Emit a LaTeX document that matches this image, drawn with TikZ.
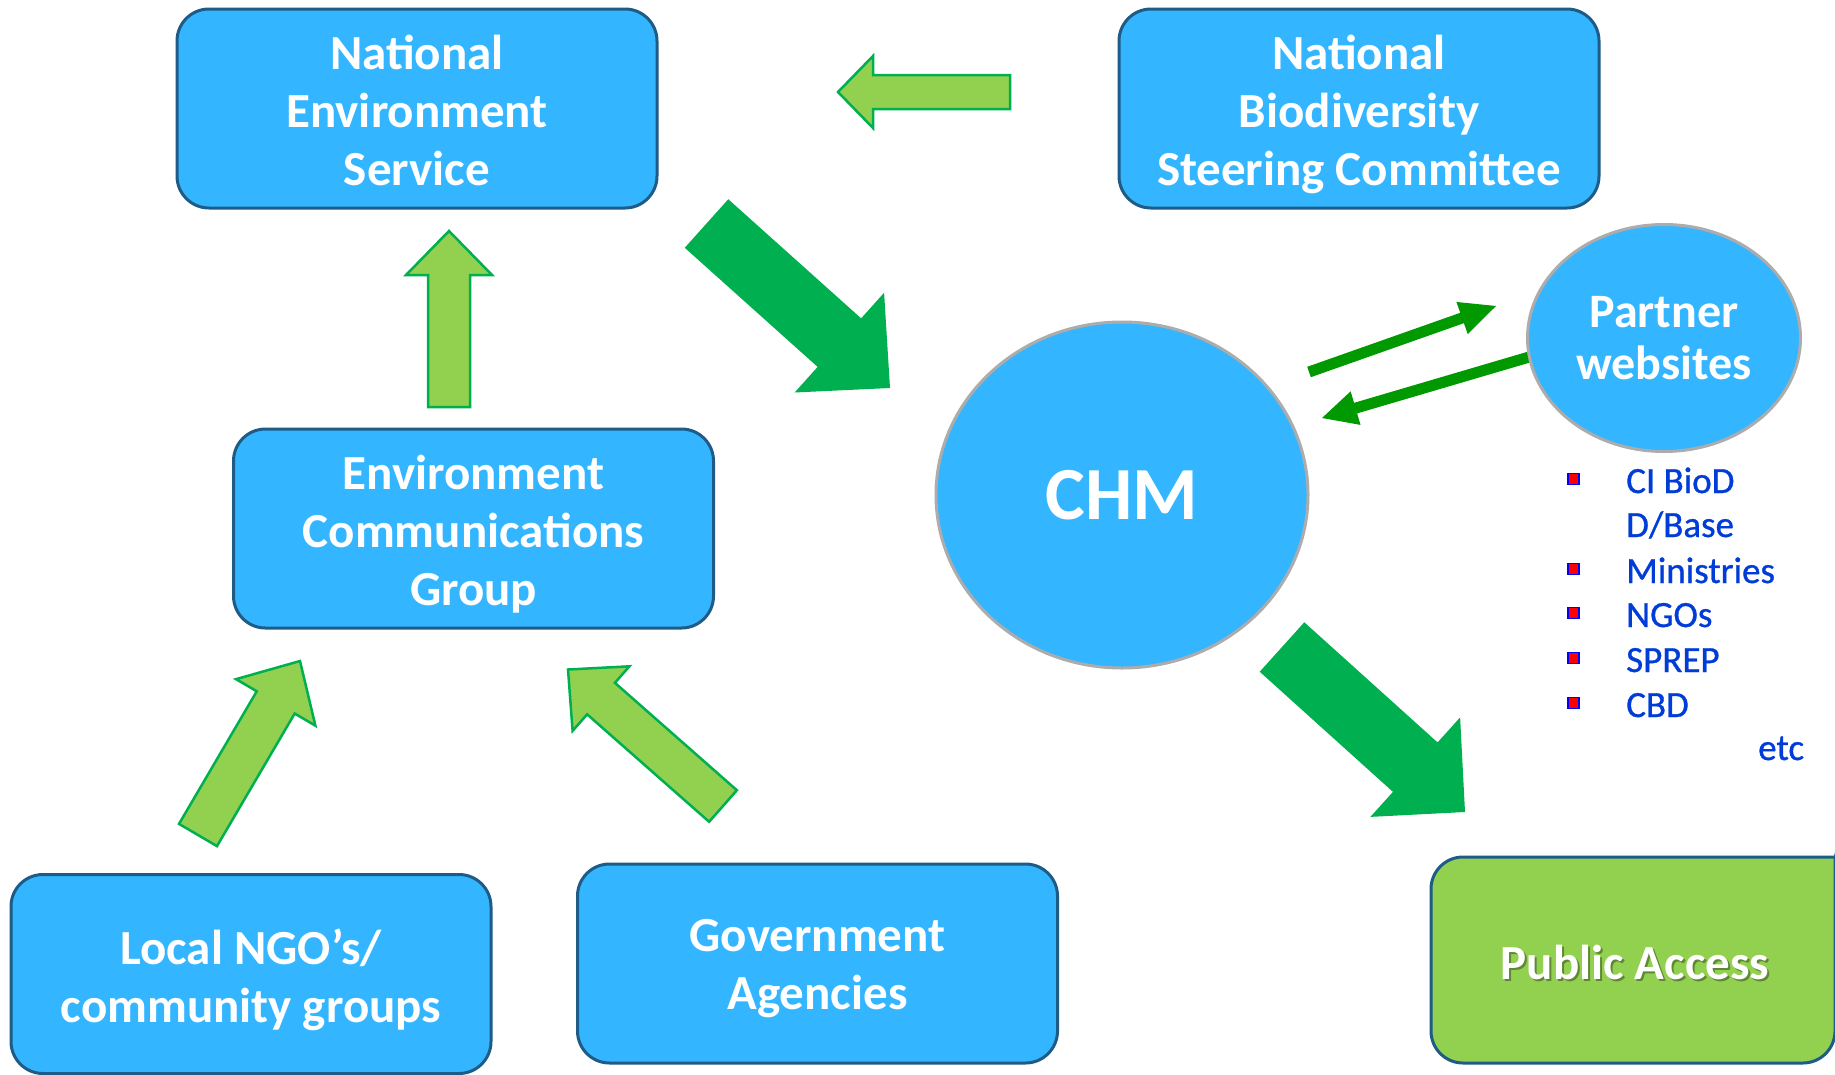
\documentclass[tikz,border=0pt]{standalone}
\usepackage{fontspec}
\setmainfont{Carlito}
\newfontfamily\listfont{Carlito}[FakeBold=0.8]
\usetikzlibrary{calc,shapes.geometric}
\definecolor{boxblue}{RGB}{51,182,255}
\definecolor{boxedge}{RGB}{30,92,135}
\definecolor{lgreen}{RGB}{146,208,80}
\definecolor{ledge}{RGB}{0,176,80}
\definecolor{dgreen}{RGB}{0,176,80}
\definecolor{tgreen}{RGB}{0,153,0}
\definecolor{ringgray}{RGB}{172,172,172}
\definecolor{listblue}{RGB}{0,60,215}
\newcommand\blockarrow[6][]{%
  \coordinate (ba-h) at ($(#3)!#6!(#2)$);
  \path[#1] ($(#2)!#4!-90:(#3)$) -- ($(ba-h)!#4!-90:(#3)$) -- ($(ba-h)!#5!-90:(#3)$) -- (#3)
    -- ($(ba-h)!#5!90:(#3)$) -- ($(ba-h)!#4!90:(#3)$) -- ($(#2)!#4!90:(#3)$) -- cycle;}
\newcommand\lastdepth{\vphantom{g}}
\tikzset{
  box/.style={draw=boxedge, line width=3pt, fill=boxblue, rounded corners=32pt,
    minimum width=480pt, minimum height=199pt, inner sep=0pt},
  boxtext/.style={text=white, align=center, font=\fontsize{49}{58}\selectfont\bfseries, inner sep=0pt},
  blob/.style={ellipse, draw=ringgray, line width=3pt, fill=boxblue, text=white,
    align=center, inner sep=0pt},
  lgarrow/.style={fill=lgreen, draw=ledge, line width=2.5pt, line join=miter},
  dgarrow/.style={fill=dgreen},
  tgarrow/.style={fill=tgreen},
  listtext/.style={anchor=base west, text=listblue, font=\fontsize{37}{44}\selectfont\listfont, inner sep=0pt},
  bulletsq/.style={draw=blue, fill=red, line width=1.5pt, minimum size=11pt, inner sep=0pt},
}
\begin{document}
\begin{tikzpicture}[x=1pt,y=-1pt]
\useasboundingbox (0,0) rectangle (1835,1074);
\clip (0,0) rectangle (1835,1074);
\fill[white] (0,0) rectangle (1835,1074);

% boxes
\node[box] (nes) at (417,108.5) {};
\node[boxtext] (nes-t) at ($(nes.center)+(0,5.5)$) {National\\Environment\\Service\lastdepth};
\node[box] (nbsc) at (1359,108.5) {};
\node[boxtext] (nbsc-t) at ($(nbsc.center)+(0,5.5)$) {National\\Biodiversity\\Steering Committee\lastdepth};
\node[box] (ecg) at (473.5,528.5) {};
\node[boxtext] (ecg-t) at ($(ecg.center)+(0,5.5)$) {Environment\\Communications\\Group\lastdepth};
\node[box] (ngo) at (251,974) {};
\node[boxtext] (ngo-t) at ($(ngo.center)+(0,5.5)$) {Local NGO’s/\\community groups\lastdepth};
\node[box] (gov) at (817.5,963.5) {};
\node[boxtext] (gov-t) at ($(gov.center)+(0,5.5)$) {Government\\Agencies\lastdepth};

% public access box
\draw[boxedge, line width=3pt, fill=lgreen, rounded corners=32pt]
  (1860,857) -- (1431,857) -- (1431,1063) -- (1835,1063) -- (1835,830) -- (1860,830);
\node[text=black, opacity=0.35, font=\fontsize{49}{58}\selectfont\bfseries] (pashadow) at (1637,964) {Public Access};
\node[text=white, font=\fontsize{49}{58}\selectfont\bfseries] (pa) at (1635,962) {Public Access};

% arrow end points
\coordinate (a1t) at (1010,92);   \coordinate (a1h) at (838,92);
\coordinate (a2t) at (449,407);   \coordinate (a2h) at (449,231);
\coordinate (a3t) at (198,835);   \coordinate (a3h) at (300,661);
\coordinate (a4t) at (723,806);   \coordinate (a4h) at (568,669.5);
\coordinate (a5t) at (706.5,223.5); \coordinate (a5h) at (890,388);
\coordinate (a6t) at (1282,647);  \coordinate (a6h) at (1465,812);
\coordinate (a7t) at (1309,372);  \coordinate (a7h) at (1496,306);
\coordinate (a8t) at (1536,355);  \coordinate (a8h) at (1322,418);

\blockarrow[lgarrow]{a1t}{a1h}{17pt}{36pt}{35pt}
\blockarrow[lgarrow]{a2t}{a2h}{21pt}{43pt}{44pt}
\blockarrow[lgarrow]{a3t}{a3h}{22pt}{46pt}{48pt}
\blockarrow[lgarrow]{a4t}{a4h}{21pt}{43pt}{44pt}
\blockarrow[dgarrow]{a5t}{a5h}{32.6pt}{67pt}{68pt}
\blockarrow[dgarrow]{a6t}{a6h}{33.3pt}{67pt}{67pt}
\blockarrow[tgarrow]{a7t}{a7h}{5.5pt}{17pt}{36pt}
\blockarrow[tgarrow]{a8t}{a8h}{5.5pt}{17.5pt}{35pt}

% ellipses
\node[blob, minimum width=372pt, minimum height=346pt, font=\fontsize{75}{80}\selectfont\bfseries] (chm) at (1122,495) {CHM};
\node[blob, minimum width=273pt, minimum height=227pt, font=\fontsize{48}{52}\selectfont\bfseries] (partner) at (1664,338) {Partner\\websites};

% list
\node[bulletsq] (b1) at (1573.5,479) {};
\node[bulletsq] (b2) at (1573.5,569) {};
\node[bulletsq] (b3) at (1573.5,613) {};
\node[bulletsq] (b4) at (1573.5,658) {};
\node[bulletsq] (b5) at (1573.5,703) {};
\node[listtext] (l1) at (1626,493) {CI BioD};
\node[listtext] (l1b) at (1626,537) {D/Base};
\node[listtext] (l2) at (1626,583) {Ministries};
\node[listtext] (l3) at (1626,627) {NGOs};
\node[listtext] (l4) at (1626,672) {SPREP};
\node[listtext] (l5) at (1626,717) {CBD};
\node[listtext] (l6) at (1758,760) {etc};
\end{tikzpicture}
\end{document}
